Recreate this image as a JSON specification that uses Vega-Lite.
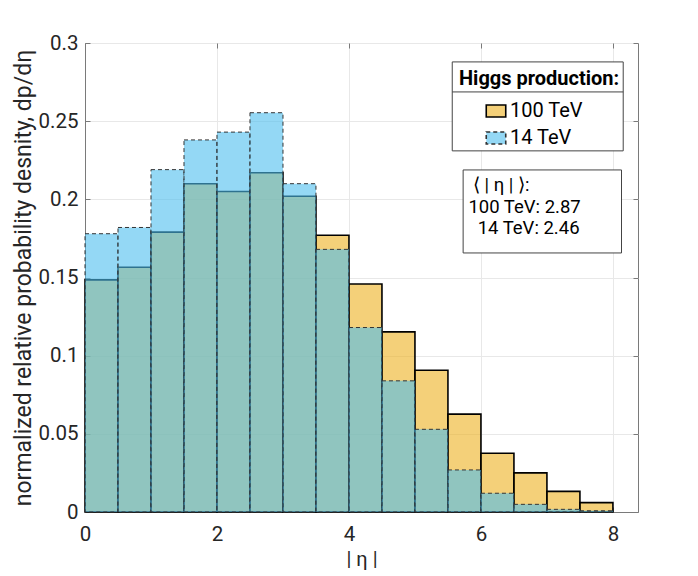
{
  "$schema": "https://vega.github.io/schema/vega-lite/v6.json",
  "width": 553,
  "height": 469,
  "autosize": {"type": "none"},
  "padding": {"left": 85, "top": 43, "right": 60, "bottom": 64},
  "background": "white",
  "data": {
    "values": [
      {"series": "100 TeV", "lo": 0.0, "hi": 0.5, "density": 0.1485},
      {"series": "100 TeV", "lo": 0.5, "hi": 1.0, "density": 0.1566},
      {"series": "100 TeV", "lo": 1.0, "hi": 1.5, "density": 0.179},
      {"series": "100 TeV", "lo": 1.5, "hi": 2.0, "density": 0.210},
      {"series": "100 TeV", "lo": 2.0, "hi": 2.5, "density": 0.205},
      {"series": "100 TeV", "lo": 2.5, "hi": 3.0, "density": 0.217},
      {"series": "100 TeV", "lo": 3.0, "hi": 3.5, "density": 0.202},
      {"series": "100 TeV", "lo": 3.5, "hi": 4.0, "density": 0.177},
      {"series": "100 TeV", "lo": 4.0, "hi": 4.5, "density": 0.1458},
      {"series": "100 TeV", "lo": 4.5, "hi": 5.0, "density": 0.1152},
      {"series": "100 TeV", "lo": 5.0, "hi": 5.5, "density": 0.0907},
      {"series": "100 TeV", "lo": 5.5, "hi": 6.0, "density": 0.0626},
      {"series": "100 TeV", "lo": 6.0, "hi": 6.5, "density": 0.0376},
      {"series": "100 TeV", "lo": 6.5, "hi": 7.0, "density": 0.025},
      {"series": "100 TeV", "lo": 7.0, "hi": 7.5, "density": 0.0132},
      {"series": "100 TeV", "lo": 7.5, "hi": 8.0, "density": 0.006},
      {"series": "14 TeV", "lo": 0.0, "hi": 0.5, "density": 0.178},
      {"series": "14 TeV", "lo": 0.5, "hi": 1.0, "density": 0.182},
      {"series": "14 TeV", "lo": 1.0, "hi": 1.5, "density": 0.219},
      {"series": "14 TeV", "lo": 1.5, "hi": 2.0, "density": 0.238},
      {"series": "14 TeV", "lo": 2.0, "hi": 2.5, "density": 0.243},
      {"series": "14 TeV", "lo": 2.5, "hi": 3.0, "density": 0.2554},
      {"series": "14 TeV", "lo": 3.0, "hi": 3.5, "density": 0.210},
      {"series": "14 TeV", "lo": 3.5, "hi": 4.0, "density": 0.168},
      {"series": "14 TeV", "lo": 4.0, "hi": 4.5, "density": 0.118},
      {"series": "14 TeV", "lo": 4.5, "hi": 5.0, "density": 0.0839},
      {"series": "14 TeV", "lo": 5.0, "hi": 5.5, "density": 0.0529},
      {"series": "14 TeV", "lo": 5.5, "hi": 6.0, "density": 0.0269},
      {"series": "14 TeV", "lo": 6.0, "hi": 6.5, "density": 0.012},
      {"series": "14 TeV", "lo": 6.5, "hi": 7.0, "density": 0.0049},
      {"series": "14 TeV", "lo": 7.0, "hi": 7.5, "density": 0.0017},
      {"series": "14 TeV", "lo": 7.5, "hi": 8.0, "density": 0.0008}
    ]
  },
  "layer": [
    {
      "layer": [
        {
          "transform": [{"filter": "datum.series == '100 TeV'"}],
          "mark": {"type": "bar", "fillOpacity": 0.6, "strokeOpacity": 1, "strokeWidth": 1.6},
          "encoding": {
            "x": {
              "field": "lo",
              "type": "quantitative",
              "scale": {"domain": [0, 8.38], "nice": false, "zero": false},
              "axis": {
                "title": "| η |",
                "values": [0, 2, 4, 6, 8],
                "format": "~g",
                "labelFlush": false,
                "labelFontSize": 20.5,
                "titleFontSize": 20,
                "titleFontWeight": "normal",
                "titleColor": "#262626",
                "tickSize": -5,
                "labelPadding": 17,
                "titlePadding": 5
              }
            },
            "x2": {"field": "hi"},
            "y": {
              "field": "density",
              "type": "quantitative",
              "scale": {"domain": [0, 0.3], "nice": false},
              "axis": {
                "title": "normalized relative probability desnity, dp/dη",
                "values": [0, 0.05, 0.1, 0.15, 0.2, 0.25, 0.3],
                "format": "~g",
                "labelFontSize": 20.5,
                "titleFontSize": 23,
                "titleFontWeight": "normal",
                "titleColor": "#262626",
                "tickSize": -5,
                "labelPadding": 12,
                "titlePadding": 3
              }
            },
            "y2": {"datum": 0},
            "fill": {
              "field": "series",
              "type": "nominal",
              "scale": {"domain": ["100 TeV", "14 TeV"], "range": ["#EDB120", "#4DBEEE"]},
              "legend": {
                "title": "Higgs production:",
                "orient": "none",
                "legendX": 367,
                "legendY": 19,
                "titleFontSize": 20,
                "titleFontWeight": "bold",
                "titleColor": "#000000",
                "labelFontSize": 20,
                "labelColor": "#000000",
                "labelOffset": 3,
                "symbolType": "M-1,-0.62H1V0.62H-1Z",
                "symbolSize": 380,
                "symbolOffset": 26,
                "symbolStrokeWidth": 1.6,
                "rowPadding": 6,
                "titlePadding": 11,
                "padding": 7,
                "strokeColor": null,
                "fillColor": null,
                "encode": {"symbols": {"update": {"fillOpacity": {"value": 0.6}, "strokeOpacity": {"value": 1}}}}
              }
            },
            "stroke": {
              "field": "series",
              "type": "nominal",
              "scale": {"domain": ["100 TeV", "14 TeV"], "range": ["#000000", "#333333"]}
            },
            "strokeDash": {
              "field": "series",
              "type": "nominal",
              "scale": {"domain": ["100 TeV", "14 TeV"], "range": [[1, 0], [4, 3]]}
            }
          }
        },
        {
          "transform": [{"filter": "datum.series == '14 TeV'"}],
          "mark": {"type": "bar", "fillOpacity": 0.6, "strokeOpacity": 1, "strokeWidth": 1},
          "encoding": {
            "x": {"field": "lo", "type": "quantitative"},
            "x2": {"field": "hi"},
            "y": {"field": "density", "type": "quantitative"},
            "y2": {"datum": 0},
            "fill": {"field": "series", "type": "nominal"},
            "stroke": {"field": "series", "type": "nominal"},
            "strokeDash": {"field": "series", "type": "nominal"}
          }
        },
        {
          "data": {"values": [{"k": 1}]},
          "mark": {"type": "rect", "fill": "white", "stroke": "#444444", "strokeWidth": 1},
          "encoding": {
            "x": {"datum": 5.565, "type": "quantitative"},
            "x2": {"datum": 8.156},
            "y": {"datum": 0.2879, "type": "quantitative"},
            "y2": {"datum": 0.231}
          }
        },
        {
          "data": {"values": [{"k": 1}]},
          "mark": {"type": "rule", "stroke": "#444444", "strokeWidth": 1},
          "encoding": {
            "x": {"datum": 5.565, "type": "quantitative"},
            "x2": {"datum": 8.156},
            "y": {"datum": 0.2687, "type": "quantitative"}
          }
        },
        {
          "data": {"values": [{"k": 1}]},
          "mark": {"type": "rect", "fill": "white", "stroke": "#444444", "strokeWidth": 1},
          "encoding": {
            "x": {"datum": 5.73, "type": "quantitative"},
            "x2": {"datum": 8.13},
            "y": {"datum": 0.2188, "type": "quantitative"},
            "y2": {"datum": 0.1657}
          }
        },
        {
          "data": {"values": [{"k": 1}]},
          "mark": {"type": "text", "text": "⟨ | η | ⟩:", "align": "left", "baseline": "middle", "fontSize": 18.5, "color": "#000000"},
          "encoding": {"x": {"datum": 5.88, "type": "quantitative"}, "y": {"datum": 0.2092, "type": "quantitative"}}
        },
        {
          "data": {"values": [{"k": 1}]},
          "mark": {"type": "text", "text": "100 TeV: 2.87", "align": "left", "baseline": "middle", "fontSize": 18.5, "color": "#000000"},
          "encoding": {"x": {"datum": 5.81, "type": "quantitative"}, "y": {"datum": 0.1953, "type": "quantitative"}}
        },
        {
          "data": {"values": [{"k": 1}]},
          "mark": {"type": "text", "text": "14 TeV: 2.46", "align": "left", "baseline": "middle", "fontSize": 18.5, "color": "#000000"},
          "encoding": {"x": {"datum": 5.95, "type": "quantitative"}, "y": {"datum": 0.1815, "type": "quantitative"}}
        }
      ]
    },
    {
      "data": {"values": [{"k": 1}]},
      "mark": {"type": "point", "opacity": 0},
      "encoding": {
        "x": {
          "datum": 0,
          "type": "quantitative",
          "scale": {"domain": [0, 8.38], "nice": false, "zero": false},
          "axis": {"orient": "top", "title": null, "values": [0, 2, 4, 6, 8], "labels": false, "grid": false, "domain": false, "tickSize": -5}
        },
        "y": {
          "datum": 0,
          "type": "quantitative",
          "scale": {"domain": [0, 0.3], "nice": false},
          "axis": {"orient": "right", "title": null, "values": [0, 0.05, 0.1, 0.15, 0.2, 0.25, 0.3], "labels": false, "grid": false, "domain": false, "tickSize": -5}
        }
      }
    }
  ],
  "resolve": {"scale": {"x": "independent", "y": "independent"}, "axis": {"x": "independent", "y": "independent"}},
  "config": {
    "font": "Roboto",
    "view": {"stroke": "#7a7a7a", "strokeWidth": 1},
    "axis": {
      "labelColor": "#262626",
      "titleColor": "#262626",
      "domainColor": "#7a7a7a",
      "tickColor": "#7a7a7a",
      "gridColor": "#e8e8e8",
      "grid": true,
      "labelFont": "Roboto",
      "titleFont": "Roboto"
    }
  }
}
